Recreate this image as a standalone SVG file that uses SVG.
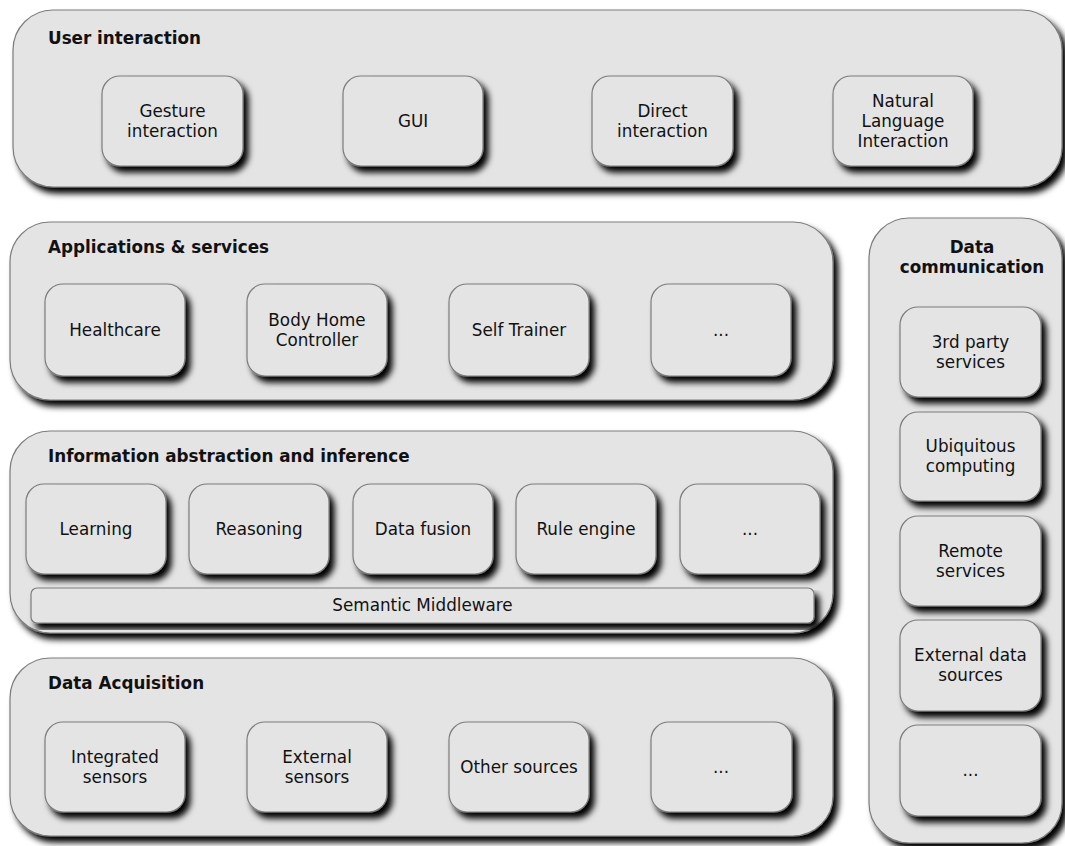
<svg xmlns="http://www.w3.org/2000/svg" width="1065" height="846" viewBox="0 0 1065 846">
  <defs>
    <filter id="shadow" x="-10%" y="-10%" width="130%" height="130%">
      <feGaussianBlur in="SourceAlpha" stdDeviation="3" result="blur"/>
      <feOffset in="blur" dx="5" dy="6" result="off"/>
      <feComponentTransfer in="off" result="dark">
        <feFuncA type="linear" slope="1"/>
      </feComponentTransfer>
      <feMerge>
        <feMergeNode in="dark"/>
        <feMergeNode in="SourceGraphic"/>
      </feMerge>
    </filter>
  </defs>
  <style>
    .box { fill: #e4e4e4; stroke: #7c7c7c; stroke-width: 1.2; filter: url(#shadow); }
    .title { font-family: "DejaVu Sans", Verdana, sans-serif; font-weight: bold; font-size: 16.8px; fill: #111; }
    .label { font-family: "DejaVu Sans", Verdana, sans-serif; font-size: 16.8px; fill: #111; text-anchor: middle; }
  </style>
  <rect width="1065" height="846" fill="#ffffff"/>

  <!-- User interaction layer -->
  <g id="layer-user-interaction">
    <rect class="box" x="13" y="10" width="1049" height="177" rx="40"/>
    <text class="title" x="48" y="44">User interaction</text>
  </g>
  <g id="node-gesture">
    <rect class="box" x="102" y="76" width="141" height="90" rx="18"/>
    <text class="label" x="172.5" y="117">Gesture</text>
    <text class="label" x="172.5" y="137">interaction</text>
  </g>
  <g id="node-gui">
    <rect class="box" x="343" y="76" width="140" height="90" rx="18"/>
    <text class="label" x="413" y="127">GUI</text>
  </g>
  <g id="node-direct">
    <rect class="box" x="592" y="76" width="141" height="90" rx="18"/>
    <text class="label" x="662.5" y="117">Direct</text>
    <text class="label" x="662.5" y="137">interaction</text>
  </g>
  <g id="node-natural-language">
    <rect class="box" x="833" y="76" width="140" height="90" rx="18"/>
    <text class="label" x="903" y="107">Natural</text>
    <text class="label" x="903" y="127">Language</text>
    <text class="label" x="903" y="147">Interaction</text>
  </g>

  <!-- Applications & services layer -->
  <g id="layer-applications">
    <rect class="box" x="10" y="222" width="823" height="178" rx="40"/>
    <text class="title" x="48" y="253">Applications &amp; services</text>
  </g>
  <g id="node-healthcare">
    <rect class="box" x="45" y="284" width="140" height="92" rx="18"/>
    <text class="label" x="115" y="336">Healthcare</text>
  </g>
  <g id="node-body-home">
    <rect class="box" x="247" y="284" width="140" height="92" rx="18"/>
    <text class="label" x="317" y="326">Body Home</text>
    <text class="label" x="317" y="346">Controller</text>
  </g>
  <g id="node-self-trainer">
    <rect class="box" x="449" y="284" width="140" height="92" rx="18"/>
    <text class="label" x="519" y="336">Self Trainer</text>
  </g>
  <g id="node-apps-more">
    <rect class="box" x="651" y="284" width="140" height="92" rx="18"/>
    <text class="label" x="721" y="336">...</text>
  </g>

  <!-- Information abstraction and inference layer -->
  <g id="layer-information">
    <rect class="box" x="10" y="431" width="823" height="202" rx="40"/>
    <text class="title" x="48" y="462">Information abstraction and inference</text>
  </g>
  <g id="node-learning">
    <rect class="box" x="26" y="484" width="140" height="90" rx="18"/>
    <text class="label" x="96" y="535">Learning</text>
  </g>
  <g id="node-reasoning">
    <rect class="box" x="189" y="484" width="140" height="90" rx="18"/>
    <text class="label" x="259" y="535">Reasoning</text>
  </g>
  <g id="node-data-fusion">
    <rect class="box" x="353" y="484" width="140" height="90" rx="18"/>
    <text class="label" x="423" y="535">Data fusion</text>
  </g>
  <g id="node-rule-engine">
    <rect class="box" x="516" y="484" width="140" height="90" rx="18"/>
    <text class="label" x="586" y="535">Rule engine</text>
  </g>
  <g id="node-inference-more">
    <rect class="box" x="680" y="484" width="140" height="90" rx="18"/>
    <text class="label" x="750" y="535">...</text>
  </g>
  <g id="node-semantic-middleware">
    <rect class="box" x="31" y="588" width="783" height="35" rx="6"/>
    <text class="label" x="422.5" y="611">Semantic Middleware</text>
  </g>

  <!-- Data Acquisition layer -->
  <g id="layer-acquisition">
    <rect class="box" x="10" y="658" width="823" height="178" rx="40"/>
    <text class="title" x="48" y="689">Data Acquisition</text>
  </g>
  <g id="node-integrated-sensors">
    <rect class="box" x="45" y="722" width="140" height="90" rx="18"/>
    <text class="label" x="115" y="763">Integrated</text>
    <text class="label" x="115" y="783">sensors</text>
  </g>
  <g id="node-external-sensors">
    <rect class="box" x="247" y="722" width="140" height="90" rx="18"/>
    <text class="label" x="317" y="763">External</text>
    <text class="label" x="317" y="783">sensors</text>
  </g>
  <g id="node-other-sources">
    <rect class="box" x="449" y="722" width="140" height="90" rx="18"/>
    <text class="label" x="519" y="773">Other sources</text>
  </g>
  <g id="node-acquisition-more">
    <rect class="box" x="651" y="722" width="141" height="90" rx="18"/>
    <text class="label" x="721" y="773">...</text>
  </g>

  <!-- Data communication column -->
  <g id="layer-communication">
    <rect class="box" x="869" y="218" width="193" height="625" rx="40"/>
    <text class="title" x="972" y="253" text-anchor="middle">Data</text>
    <text class="title" x="972" y="273" text-anchor="middle">communication</text>
  </g>
  <g id="node-third-party">
    <rect class="box" x="900" y="307" width="141" height="90" rx="18"/>
    <text class="label" x="970.5" y="348">3rd party</text>
    <text class="label" x="970.5" y="368">services</text>
  </g>
  <g id="node-ubiquitous">
    <rect class="box" x="900" y="412" width="141" height="89" rx="18"/>
    <text class="label" x="970.5" y="452">Ubiquitous</text>
    <text class="label" x="970.5" y="472">computing</text>
  </g>
  <g id="node-remote">
    <rect class="box" x="900" y="516" width="141" height="90" rx="18"/>
    <text class="label" x="970.5" y="557">Remote</text>
    <text class="label" x="970.5" y="577">services</text>
  </g>
  <g id="node-external-data">
    <rect class="box" x="900" y="620" width="141" height="91" rx="18"/>
    <text class="label" x="970.5" y="661">External data</text>
    <text class="label" x="970.5" y="681">sources</text>
  </g>
  <g id="node-communication-more">
    <rect class="box" x="900" y="725" width="141" height="91" rx="18"/>
    <text class="label" x="970.5" y="776">...</text>
  </g>

  <!-- no connectors in this layered view -->
  <g id="connectors"/>
</svg>
